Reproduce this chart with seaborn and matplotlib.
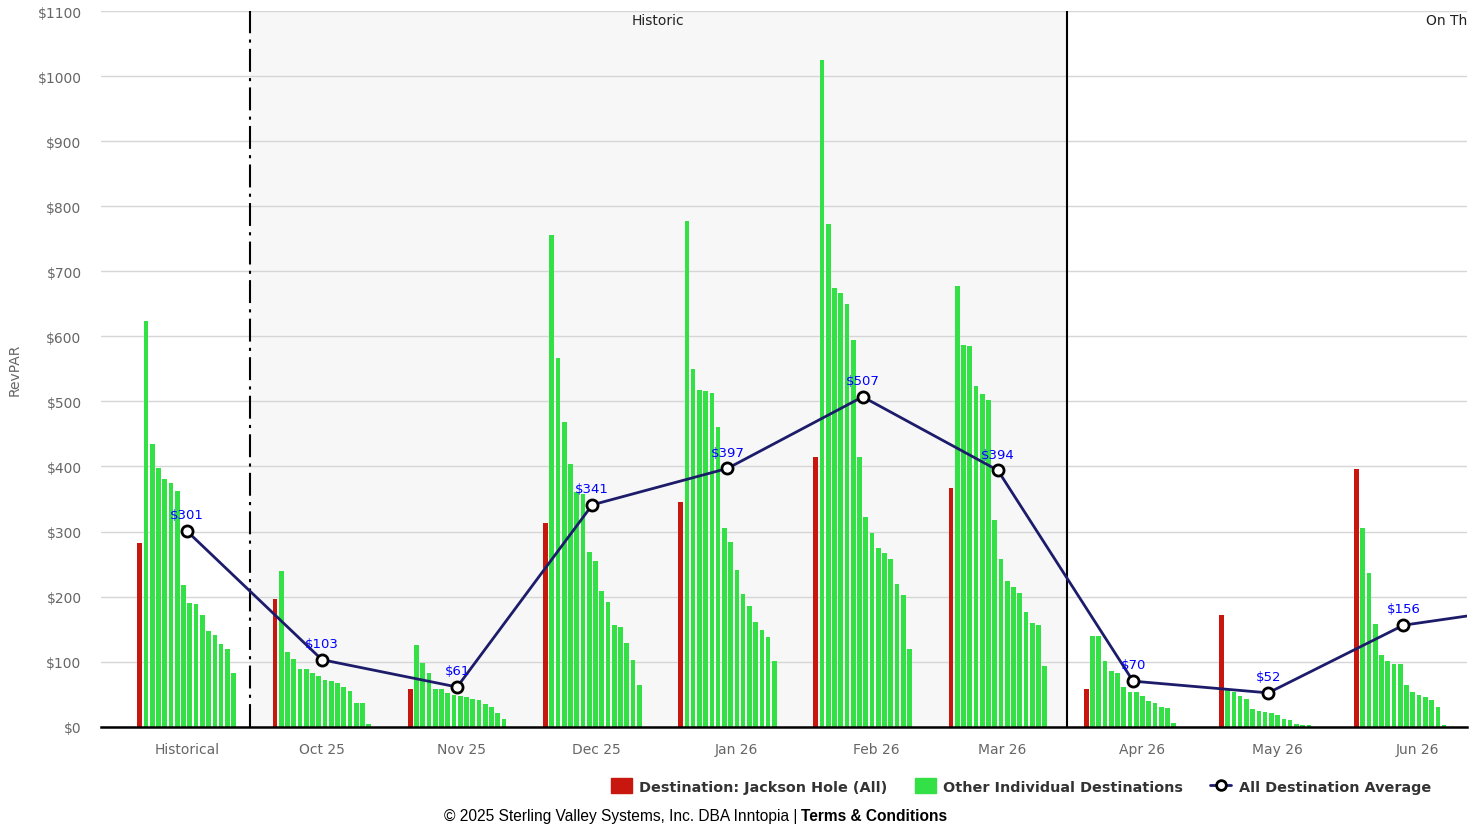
import numpy as np
import pandas as pd
import matplotlib.pyplot as plt
import seaborn as sns
from matplotlib.patches import Patch
from matplotlib.lines import Line2D

# Data
periods = ['Historical', 'Oct 25', 'Nov 25', 'Dec 25', 'Jan 26', 'Feb 26',
           'Mar 26', 'Apr 26', 'May 26', 'Jun 26']
tick_dates = ['2025-09-01', '2025-10-01', '2025-11-01', '2025-12-01', '2026-01-01',
              '2026-02-01', '2026-03-01', '2026-04-01', '2026-05-01', '2026-06-01']

jackson = [283, 196, 58, 313, 346, 414, 367, 58, 172, 396]

others_hist = [624, 435, 398, 380, 375, 362, 218, 190, 189, 172, 147, 141, 127, 120, 83]
others_oct = [240, 115, 104, 89, 89, 82, 78, 72, 70, 67, 61, 55, 36, 36, 4]
others_nov = [126, 98, 82, 58, 58, 52, 49, 47, 46, 43, 41, 35, 30, 21, 12]
others_dec = [755, 567, 469, 403, 360, 357, 269, 255, 209, 192, 156, 153, 129, 103, 64]
others_jan = [777, 550, 517, 516, 513, 461, 306, 284, 241, 204, 186, 161, 149, 138, 101]
others_feb = [1025, 772, 674, 666, 649, 594, 414, 322, 297, 274, 267, 257, 219, 202, 119]
others_mar = [677, 587, 585, 524, 511, 502, 317, 257, 224, 214, 205, 177, 159, 157, 94]
others_apr = [139, 139, 101, 86, 83, 61, 53, 53, 47, 40, 36, 30, 29, 5, 0]
others_may = [56, 53, 47, 43, 27, 24, 23, 21, 18, 12, 10, 4, 2.5, 2.5, 0]
others_jun = [305, 236, 158, 110, 101, 96, 96, 64, 53, 49, 46, 41, 31, 3, 0]
others = [others_hist, others_oct, others_nov, others_dec, others_jan,
          others_feb, others_mar, others_apr, others_may, others_jun]

# last value belongs to Jul 26, which sits past the right edge
dest_avg = [301, 103, 61, 341, 397, 507, 394, 70, 52, 156, 186]

RED = '#c8170f'
GREEN = '#33e045'
NAVY = '#1c1c6b'

rows = []
for p, j, o in zip(periods, jackson, others):
    rows.append((p, 'Jackson Hole', j))
    for k, v in enumerate(o):
        rows.append((p, f'Other {k + 1}', v))
df = pd.DataFrame(rows, columns=['period', 'dest', 'revpar'])

hue_order = ['Jackson Hole'] + [f'Other {k}' for k in range(1, 16)]
palette = {h: (RED if h == 'Jackson Hole' else GREEN) for h in hue_order}

sns.set_theme(style='white')
plt.rcParams['font.family'] = ['DejaVu Sans']

fig = plt.figure(figsize=(14.84, 8.29), dpi=100)
ax = fig.add_axes([101 / 1484, 1 - 727.7 / 829, 1366 / 1484, 715.7 / 829])

# historic band and dividers
hist_start, hist_end = 0.466, 6.51
ax.axvspan(hist_start, hist_end, color='#f7f7f7', zorder=0, lw=0)
ax.axvline(hist_start, color='black', lw=1.5, ls=(0, (11, 3, 1.5, 3)), zorder=2)
ax.axvline(hist_end, color='black', lw=1.5, zorder=2)
ax.text((hist_start + hist_end) / 2, 0.987, 'Historic', transform=ax.get_xaxis_transform(),
        ha='center', va='center', fontsize=10, color='#222')
# band label runs past the plot edge, as in the source
ax.text(9.166, 0.987, 'On The Books', transform=ax.get_xaxis_transform(),
        ha='left', va='center', fontsize=10, color='#222', clip_on=True)

sns.barplot(data=df, x='period', y='revpar', hue='dest', order=periods,
            hue_order=hue_order, palette=palette, width=0.74, gap=0.25,
            errorbar=None, legend=False, saturation=1, linewidth=0, ax=ax, zorder=2)

xs = np.arange(len(dest_avg))
sns.lineplot(x=xs, y=dest_avg, color=NAVY, lw=2, marker='o', ms=8, mfc='white',
             mec='black', mew=2, ax=ax, zorder=4)
for i, v in enumerate(dest_avg):
    ax.annotate(f'${v}', (i, v), xytext=(0, 7), textcoords='offset points',
                ha='center', va='bottom', color='blue', fontsize=9.5,
                annotation_clip=True, zorder=5)

# axes styling
ax.set_xlim(-0.634, 9.47)
ax.set_ylim(0, 1100)
yt = np.arange(0, 1101, 100)
ax.set_yticks(yt, labels=[f'${v}' for v in yt])
tick_pos = (pd.to_datetime(tick_dates) - pd.Timestamp(tick_dates[0])).days / 30
ax.set_xticks(tick_pos, labels=periods)
ax.tick_params(axis='x', length=7, width=1, color='#ccd6eb', labelcolor='#666666',
               labelsize=10, pad=4)
ax.tick_params(axis='y', length=0, labelcolor='#666666', labelsize=10, pad=14)
ax.set_xlabel('')
ax.set_ylabel('RevPAR', color='#666666', fontsize=10)
ax.yaxis.set_label_coords(-0.058, 0.5)
ax.yaxis.grid(True, color='#d6d6d6', lw=1)
ax.set_axisbelow(True)
for s in ['left', 'right', 'top']:
    ax.spines[s].set_visible(False)
ax.spines['bottom'].set_color('black')
ax.spines['bottom'].set_linewidth(1.8)
ax.spines['bottom'].set_zorder(6)

handles = [Patch(color=RED), Patch(color=GREEN),
           Line2D([], [], color=NAVY, lw=2, marker='o', ms=7, mfc='white',
                  mec='black', mew=2)]
labels = ['Destination: Jackson Hole (All)', 'Other Individual Destinations',
          'All Destination Average']
fig.legend(handles, labels, loc='center', bbox_to_anchor=(1021 / 1484, 1 - 787 / 829),
           ncol=3, frameon=False, prop=dict(weight='bold', size=10.4), labelcolor='#333333',
           handlelength=1.45, handleheight=1.2, handletextpad=0.5, columnspacing=1.9)

fig.text(797 / 1484, 1 - 817 / 829, '© 2025 Sterling Valley Systems, Inc. DBA Inntopia |',
         ha='right', va='center', family='Liberation Sans', fontsize=11.2, color='black')
fig.text(801 / 1484, 1 - 817 / 829, 'Terms & Conditions', ha='left', va='center',
         family='Liberation Sans', fontsize=11.2, weight='bold', color='black')

fig.savefig('out.png', dpi=100)
